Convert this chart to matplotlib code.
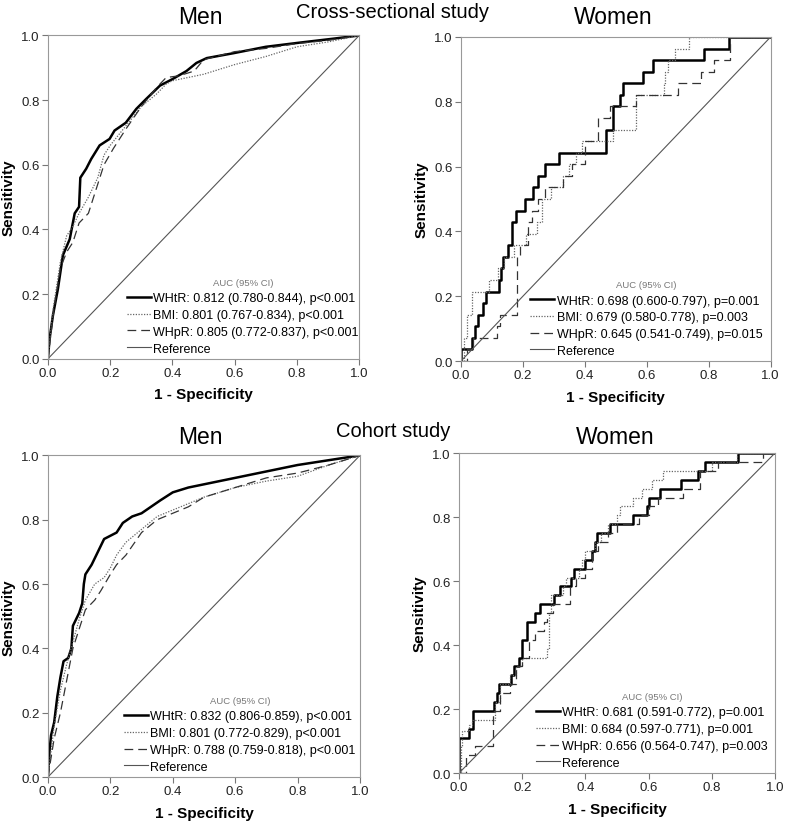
import numpy as np
import matplotlib.pyplot as plt

plt.rcParams['font.family'] = ['Liberation Sans', 'DejaVu Sans']

# ---- Cross-sectional study, men (1 - specificity, sensitivity)
cs_men_whtr_x = [0, 0.005, 0.016, 0.032, 0.048, 0.07, 0.086, 0.10, 0.104, 0.123, 0.139, 0.166, 0.198, 0.214, 0.25, 0.284,
                 0.316, 0.36, 0.40, 0.445, 0.477, 0.51, 0.595, 0.70, 0.81, 0.916, 1.0]
cs_men_whtr_y = [0, 0.06, 0.134, 0.216, 0.32, 0.37, 0.45, 0.47, 0.56, 0.588, 0.618, 0.66, 0.68, 0.706, 0.73, 0.773,
                 0.804, 0.845, 0.865, 0.89, 0.915, 0.93, 0.945, 0.965, 0.978, 0.99, 1.0]
cs_men_bmi_x = [0, 0.016, 0.04, 0.06, 0.08, 0.10, 0.13, 0.16, 0.18, 0.20, 0.25, 0.30, 0.35, 0.38, 0.40, 0.45, 0.50,
                0.60, 0.70, 0.80, 0.90, 1.0]
cs_men_bmi_y = [0, 0.15, 0.30, 0.38, 0.41, 0.45, 0.50, 0.56, 0.63, 0.66, 0.72, 0.78, 0.82, 0.85, 0.86, 0.87, 0.88,
                0.91, 0.935, 0.965, 0.98, 1.0]
cs_men_whpr_x = [0, 0.02, 0.04, 0.06, 0.08, 0.10, 0.13, 0.16, 0.18, 0.21, 0.25, 0.30, 0.35, 0.38, 0.42, 0.47, 0.50,
                 0.60, 0.70, 0.80, 0.90, 1.0]
cs_men_whpr_y = [0, 0.16, 0.28, 0.33, 0.36, 0.42, 0.45, 0.54, 0.60, 0.65, 0.71, 0.78, 0.84, 0.87, 0.875, 0.89, 0.925,
                 0.95, 0.96, 0.975, 0.985, 1.0]

# ---- Cross-sectional study, women (step curves: x of each rise, level after rise)
cs_wom_whtr_x = [0, 0, 0.034, 0.046, 0.054, 0.07, 0.08, 0.123, 0.13, 0.136, 0.152, 0.165, 0.179, 0.206, 0.233, 0.249,
                 0.27, 0.315, 0.469, 0.49, 0.515, 0.523, 0.587, 0.62, 0.785, 0.865, 1.0]
cs_wom_whtr_y = [0, 0.036, 0.071, 0.107, 0.143, 0.179, 0.214, 0.25, 0.286, 0.321, 0.357, 0.429, 0.464, 0.5, 0.536,
                 0.571, 0.607, 0.643, 0.714, 0.786, 0.821, 0.857, 0.893, 0.929, 0.964, 1.0, 1.0]
cs_wom_bmi_x = [0, 0.01, 0.02, 0.034, 0.09, 0.12, 0.14, 0.17, 0.21, 0.245, 0.26, 0.29, 0.33, 0.35, 0.37, 0.39, 0.49,
                0.565, 0.655, 0.66, 0.67, 0.69, 0.737, 1.0]
cs_wom_bmi_y = [0, 0.071, 0.143, 0.214, 0.25, 0.286, 0.321, 0.357, 0.393, 0.429, 0.5, 0.536, 0.571, 0.607, 0.643,
                0.679, 0.714, 0.821, 0.857, 0.893, 0.929, 0.964, 1.0, 1.0]
cs_wom_whpr_x = [0, 0.02, 0.04, 0.072, 0.115, 0.125, 0.18, 0.19, 0.215, 0.23, 0.25, 0.27, 0.33, 0.36, 0.40, 0.444,
                 0.48, 0.52, 0.565, 0.70, 0.775, 0.818, 0.87, 1.0]
cs_wom_whpr_y = [0, 0.036, 0.071, 0.071, 0.107, 0.143, 0.321, 0.357, 0.429, 0.464, 0.5, 0.536, 0.571, 0.607, 0.679,
                 0.75, 0.786, 0.786, 0.821, 0.857, 0.893, 0.929, 1.0, 1.0]

# ---- Cohort study, men
co_men_whtr_x = [0, 0.005, 0.01, 0.02, 0.03, 0.04, 0.05, 0.065, 0.075, 0.08, 0.10, 0.11, 0.115, 0.12, 0.14, 0.16,
                 0.18, 0.20, 0.22, 0.24, 0.27, 0.30, 0.33, 0.36, 0.40, 0.45, 0.50, 0.55, 0.60, 0.70, 0.80, 0.90, 1.0]
co_men_whtr_y = [0, 0.08, 0.13, 0.17, 0.25, 0.31, 0.36, 0.37, 0.40, 0.47, 0.51, 0.54, 0.60, 0.63, 0.66, 0.70,
                 0.74, 0.75, 0.76, 0.79, 0.81, 0.82, 0.84, 0.86, 0.885, 0.90, 0.91, 0.92, 0.93, 0.95, 0.97, 0.985, 1.0]
co_men_bmi_x = [0, 0.02, 0.04, 0.06, 0.08, 0.10, 0.12, 0.15, 0.18, 0.20, 0.22, 0.25, 0.30, 0.35, 0.40, 0.45, 0.50,
                0.60, 0.70, 0.80, 0.90, 1.0]
co_men_bmi_y = [0, 0.16, 0.27, 0.35, 0.42, 0.49, 0.55, 0.60, 0.62, 0.65, 0.69, 0.73, 0.77, 0.81, 0.83, 0.85, 0.87,
                0.90, 0.92, 0.935, 0.97, 1.0]
co_men_whpr_x = [0, 0.02, 0.04, 0.06, 0.08, 0.10, 0.12, 0.15, 0.17, 0.20, 0.22, 0.25, 0.30, 0.35, 0.40, 0.45, 0.50,
                 0.60, 0.70, 0.80, 0.90, 1.0]
co_men_whpr_y = [0, 0.12, 0.20, 0.30, 0.40, 0.46, 0.52, 0.55, 0.58, 0.63, 0.66, 0.69, 0.76, 0.80, 0.82, 0.84, 0.87,
                 0.90, 0.93, 0.945, 0.97, 1.0]

# ---- Cohort study, women
co_wom_whtr_x = [0, 0, 0.03, 0.045, 0.11, 0.12, 0.125, 0.165, 0.175, 0.19, 0.20, 0.215, 0.24, 0.255, 0.30, 0.32,
                 0.355, 0.365, 0.40, 0.42, 0.43, 0.437, 0.477, 0.55, 0.596, 0.60, 0.615, 0.636, 0.704, 0.757, 0.778,
                 0.884, 1.0]
co_wom_whtr_y = [0, 0.111, 0.139, 0.194, 0.222, 0.25, 0.278, 0.306, 0.333, 0.361, 0.417, 0.472, 0.5, 0.528, 0.556,
                 0.583, 0.611, 0.639, 0.667, 0.694, 0.722, 0.75, 0.778, 0.806, 0.833, 0.861, 0.861, 0.889, 0.917,
                 0.944, 0.972, 1.0, 1.0]
co_wom_bmi_x = [0, 0.005, 0.01, 0.03, 0.04, 0.115, 0.13, 0.16, 0.18, 0.20, 0.277, 0.285, 0.29, 0.33, 0.34, 0.38,
                0.39, 0.40, 0.43, 0.45, 0.47, 0.50, 0.51, 0.55, 0.58, 0.61, 0.646, 0.80, 0.88, 1.0]
co_wom_bmi_y = [0, 0.083, 0.13, 0.15, 0.167, 0.222, 0.278, 0.306, 0.333, 0.361, 0.389, 0.5, 0.556, 0.583, 0.611,
                0.639, 0.667, 0.694, 0.722, 0.75, 0.778, 0.806, 0.833, 0.861, 0.889, 0.917, 0.944, 0.972, 1.0, 1.0]
co_wom_whpr_x = [0, 0.023, 0.05, 0.108, 0.13, 0.16, 0.18, 0.20, 0.22, 0.24, 0.27, 0.28, 0.298, 0.35, 0.37, 0.40,
                 0.42, 0.44, 0.47, 0.50, 0.57, 0.60, 0.63, 0.71, 0.762, 0.82, 0.963, 1.0]
co_wom_whpr_y = [0, 0.056, 0.083, 0.194, 0.25, 0.278, 0.333, 0.361, 0.417, 0.444, 0.472, 0.5, 0.528, 0.583, 0.611,
                 0.639, 0.694, 0.722, 0.75, 0.778, 0.806, 0.833, 0.861, 0.889, 0.944, 0.972, 1.0, 1.0]

cs_men_labels = ['WHtR: 0.812 (0.780-0.844), p<0.001', 'BMI: 0.801 (0.767-0.834), p<0.001',
                 'WHpR: 0.805 (0.772-0.837), p<0.001', 'Reference']
cs_wom_labels = ['WHtR: 0.698 (0.600-0.797), p=0.001', 'BMI: 0.679 (0.580-0.778), p=0.003',
                 'WHpR: 0.645 (0.541-0.749), p=0.015', 'Reference']
co_men_labels = ['WHtR: 0.832 (0.806-0.859), p<0.001', 'BMI: 0.801 (0.772-0.829), p<0.001',
                 'WHpR: 0.788 (0.759-0.818), p<0.001', 'Reference']
co_wom_labels = ['WHtR: 0.681 (0.591-0.772), p=0.001', 'BMI: 0.684 (0.597-0.771), p=0.001',
                 'WHpR: 0.656 (0.564-0.747), p=0.003', 'Reference']


def draw_panel(ax, curves, labels, step, leg_x):
    drawstyle = 'steps-post' if step else 'default'
    (wx, wy), (bx, by), (px, py) = curves
    ax.plot(wx, wy, color='black', lw=1.8, drawstyle=drawstyle, label=labels[0])
    ax.plot(bx, by, color='#666666', lw=0.9, ls=(0, (1, 1.2)), drawstyle=drawstyle, label=labels[1])
    ax.plot(px, py, color='#333333', lw=0.9, ls=(0, (7, 4)), drawstyle=drawstyle, label=labels[2])
    ax.plot([0, 1], [0, 1], color='#555555', lw=0.8, label=labels[3])
    ax.set_xlim(0, 1)
    ax.set_ylim(0, 1)
    ticks = np.arange(0, 1.01, 0.2)
    ax.set_xticks(ticks)
    ax.set_yticks(ticks)
    ax.set_xticklabels([f'{t:.1f}' for t in ticks])
    ax.set_yticklabels([f'{t:.1f}' for t in ticks])
    ax.tick_params(direction='out', length=4, width=0.8, color='#777777', labelsize=9.5,
                   labelcolor='#222222', pad=2)
    for s in ax.spines.values():
        s.set_color('#999999')
        s.set_linewidth(0.8)
    ax.set_xlabel('1 - Specificity', fontsize=11, fontweight='bold', labelpad=6)
    ax.set_ylabel('Sensitivity', fontsize=11, fontweight='bold', labelpad=4)
    leg = ax.legend(loc='lower left', bbox_to_anchor=(leg_x, -0.01), frameon=False, fontsize=9,
                    title='AUC (95% CI)', title_fontsize=6.8, handlelength=1.9, handletextpad=0.2,
                    labelspacing=0.38, borderaxespad=0.2)
    leg.get_title().set_color('#777777')
    leg._legend_box.sep = 4


fig = plt.figure(figsize=(7.86, 8.29), dpi=100)
ax1 = fig.add_axes([0.061, 0.566, 0.396, 0.390])
ax2 = fig.add_axes([0.5865, 0.5633, 0.394, 0.391])
ax3 = fig.add_axes([0.061, 0.0615, 0.397, 0.388])
ax4 = fig.add_axes([0.584, 0.0663, 0.402, 0.386])

draw_panel(ax1, [(cs_men_whtr_x, cs_men_whtr_y), (cs_men_bmi_x, cs_men_bmi_y), (cs_men_whpr_x, cs_men_whpr_y)],
           cs_men_labels, False, 0.23)
draw_panel(ax2, [(cs_wom_whtr_x, cs_wom_whtr_y), (cs_wom_bmi_x, cs_wom_bmi_y), (cs_wom_whpr_x, cs_wom_whpr_y)],
           cs_wom_labels, True, 0.20)
draw_panel(ax3, [(co_men_whtr_x, co_men_whtr_y), (co_men_bmi_x, co_men_bmi_y), (co_men_whpr_x, co_men_whpr_y)],
           co_men_labels, False, 0.22)
draw_panel(ax4, [(co_wom_whtr_x, co_wom_whtr_y), (co_wom_bmi_x, co_wom_bmi_y), (co_wom_whpr_x, co_wom_whpr_y)],
           co_wom_labels, True, 0.22)

fig.text(200 / 786, 1 - 17 / 829, 'Men', ha='center', va='center', fontsize=16.5)
fig.text(613 / 786, 1 - 17 / 829, 'Women', ha='center', va='center', fontsize=16.5)
fig.text(393 / 786, 1 - 12 / 829, 'Cross-sectional study', ha='center', va='center', fontsize=14.5)
fig.text(200 / 786, 1 - 437 / 829, 'Men', ha='center', va='center', fontsize=16.5)
fig.text(615 / 786, 1 - 437 / 829, 'Women', ha='center', va='center', fontsize=16.5)
fig.text(393 / 786, 1 - 432 / 829, 'Cohort study', ha='center', va='center', fontsize=14.5)

fig.savefig('out.png', dpi=100)
